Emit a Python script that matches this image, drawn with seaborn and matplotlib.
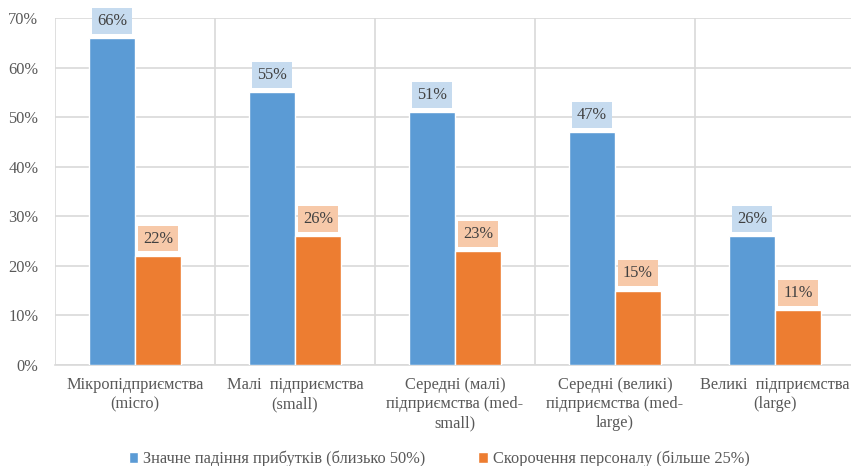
import matplotlib
matplotlib.use("Agg")
import matplotlib.pyplot as plt
import seaborn as sns
import pandas as pd
from matplotlib.ticker import MultipleLocator, FuncFormatter

categories = ["Мікропідприємства\n(micro)", "Малі  підприємства\n(small)",
              "Середні (малі)\nпідприємства (med-\nsmall)",
              "Середні (великі)\nпідприємства (med-\nlarge)",
              "Великі  підприємства\n(large)"]
series_names = ["Значне падіння прибутків (близько 50%)", "Скорочення персоналу (більше 25%)"]
profit_drop = [66, 55, 51, 47, 26]
staff_cut = [22, 26, 23, 15, 11]
colors = ["#5b9bd5", "#ed7d31"]
label_bg = ["#c6dbef", "#f7c9a9"]

df = pd.DataFrame({
    "cat": categories * 2,
    "series": [series_names[0]] * 5 + [series_names[1]] * 5,
    "val": profit_drop + staff_cut,
})

sns.set_theme(style="white")
plt.rcParams["font.family"] = ["Liberation Serif", "DejaVu Serif"]

fig = plt.figure(figsize=(8.51, 4.66), dpi=100)
ax = fig.add_axes([0.0646, 0.217, 0.94, 0.744])
sns.barplot(data=df, x="cat", y="val", hue="series", palette=colors,
            width=0.575, saturation=1, ax=ax, legend=True, zorder=3)

ax.set_ylim(0, 70)
ax.set_xlim(-0.5, 4.5)
ax.yaxis.set_major_locator(MultipleLocator(10))
ax.yaxis.set_major_formatter(FuncFormatter(lambda v, p: f"{int(v)}%"))
ax.set_xticks(range(5))
ax.set_xticks([i + 0.5 for i in range(-1, 5)], minor=True)
ax.grid(axis="y", which="major", color="#d9d9d9", linewidth=1.2, zorder=0)
ax.grid(axis="x", which="minor", color="#d9d9d9", linewidth=1.2, zorder=0)
ax.grid(axis="x", which="major", visible=False)
ax.tick_params(axis="both", which="both", length=0, labelsize=11.8, colors="#595959")
ax.tick_params(axis="x", pad=9)
ax.tick_params(axis="y", pad=12)
for lbl in ax.get_xticklabels():
    lbl.set_linespacing(1.25)
ax.set_xlabel("")
ax.set_ylabel("")
for s in ["left", "right", "top"]:
    ax.spines[s].set_visible(False)
ax.spines["bottom"].set_color("#d9d9d9")
ax.spines["bottom"].set_linewidth(1.2)

for ci, cont in enumerate(ax.containers):
    for bar, v in zip(cont, [profit_drop, staff_cut][ci]):
        x = bar.get_x() + bar.get_width() / 2
        ax.annotate(f"{v}%", (x, bar.get_height()), xytext=(0, 12.5), textcoords="offset points",
                    ha="center", va="center", fontsize=11.8, color="#404040", zorder=5,
                    bbox=dict(boxstyle="square,pad=0.3", facecolor=label_bg[ci], edgecolor="none"))

handles, labels = ax.get_legend_handles_labels()
ax.get_legend().remove()
leg = fig.legend(handles, labels, loc="center", bbox_to_anchor=(0.516, 0.015), ncol=2, frameon=False,
                 fontsize=11.8, handlelength=0.6, handleheight=0.6, handletextpad=0.3,
                 columnspacing=3.2)
for t in leg.get_texts():
    t.set_color("#595959")
    t.set_fontfamily(["Liberation Serif", "DejaVu Serif"])
    t.set_fontsize(11.8)

fig.savefig("out.png", dpi=100)
